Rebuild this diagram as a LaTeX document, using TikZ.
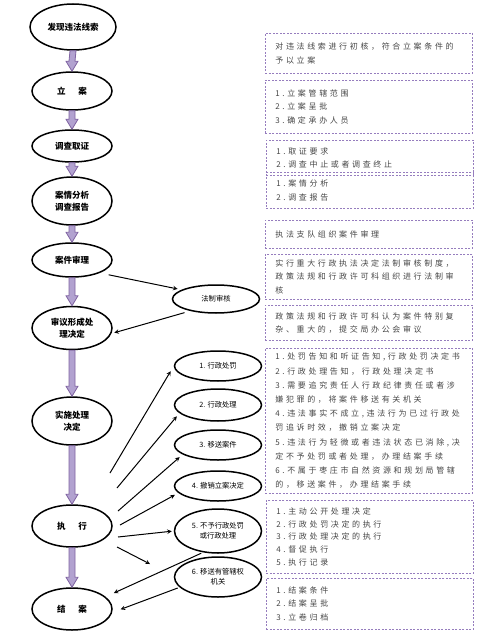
\documentclass[tikz,border=0pt]{standalone}
\usepackage{fontspec}
\usepackage{tikz}
\usetikzlibrary{shapes.geometric}
\newfontfamily\cjk{Noto Sans CJK SC}
\newfontfamily\cjkbox[LetterSpace=33]{Noto Sans CJK SC}
\definecolor{arrowline}{RGB}{128,100,162}
\definecolor{arrowfill}{RGB}{178,162,208}
\definecolor{boxline}{RGB}{150,125,190}
\definecolor{boxtext}{RGB}{70,70,70}

\newcommand{\fatarrow}[2]{%
  \draw[arrowline, fill=arrowfill, line width=0.8pt, line join=miter]
    ([xshift=-3pt]#1.south) -- ([xshift=-3pt, yshift=10pt]#2.north)
    -- ([xshift=-6pt, yshift=10pt]#2.north) -- (#2.north)
    -- ([xshift=6pt, yshift=10pt]#2.north) -- ([xshift=3pt, yshift=10pt]#2.north)
    -- ([xshift=3pt]#1.south) -- cycle;}

\begin{document}
\begin{tikzpicture}[x=1pt, y=-1pt,
  stage/.style={draw, ellipse, line width=1.5pt, minimum width=80pt, inner sep=0pt, align=center, font=\cjk\bfseries\fontsize{8.5}{11.5}\selectfont},
  outcome/.style={draw, ellipse, line width=1.5pt, minimum width=87pt, minimum height=30pt, inner sep=0pt, align=center, font=\cjk\fontsize{7.3}{10}\selectfont},
  note/.style={draw=boxline, dash pattern=on 2pt off 1.5pt, line width=0.8pt, anchor=north west, minimum width=207pt, text width=187pt, inner xsep=10pt, inner ysep=0pt, align=left, text=boxtext, font=\cjkbox\fontsize{8}{13.5}\selectfont},
  link/.style={->, >=stealth, line width=1pt}]
	\useasboundingbox (0,0) rectangle (484,639);

	\node[stage, minimum width=86pt, minimum height=46pt] (clue) at (73,27) {发现违法线索};
	\node[stage, minimum height=38pt] (filing) at (72,91) {立\hspace{1.5em}案};
	\node[stage, minimum height=32pt] (evidence) at (72,146) {调查取证};
	\node[stage, minimum height=48pt] (analysis) at (72,201) {案情分析\\调查报告};
	\node[stage, minimum height=34pt] (trial) at (72,260) {案件审理};
	\node[stage, minimum height=43pt] (decision) at (72,328) {审议形成处\\理决定};
	\node[stage, minimum height=48pt] (enforce) at (72,421) {实施处理\\决定};
	\node[stage, minimum height=42pt] (execute) at (72,526) {执\hspace{1.5em}行};
	\node[stage, minimum height=42pt] (close) at (72,609) {结\hspace{1.5em}案};

	\fatarrow{clue}{filing}
	\fatarrow{filing}{evidence}
	\fatarrow{evidence}{analysis}
	\fatarrow{analysis}{trial}
	\fatarrow{trial}{decision}
	\fatarrow{decision}{enforce}
	\fatarrow{enforce}{execute}
	\fatarrow{execute}{close}

	\node[outcome, minimum height=28pt] (review) at (216,299) {法制审核};
	\node[outcome] (out1) at (218,366) {1. 行政处罚};
	\node[outcome, minimum height=32pt] (out2) at (218,405) {2. 行政处理};
	\node[outcome] (out3) at (218,445) {3. 移送案件};
	\node[outcome] (out4) at (218,486) {4. 撤销立案决定};
	\node[outcome, minimum height=44pt] (out5) at (218,531) {5. 不予行政处罚\\或行政处理};
	\node[outcome, minimum height=40pt] (out6) at (218,577) {6. 移送有管辖权\\机关};

	\coordinate (from1) at (110,473);
	\coordinate (from2) at (117,488);
	\coordinate (from3) at (118,511);
	\coordinate (from4) at (120,525);
	\coordinate (from5) at (118,537);
	\coordinate (from6) at (117,547);
	\coordinate (to6) at (150,564);

	\draw[link, shorten <=9pt, shorten >=4pt] (trial.-25) -- (review.165);
	\draw[link, shorten <=6pt, shorten >=3pt] (review.205) -- (decision.-8);
	\draw[link, shorten >=6pt] (from1) -- (out1.west);
	\draw[link, shorten >=4pt] (from2) -- (out2.192);
	\draw[link, shorten >=4pt] (from3) -- (out3.195);
	\draw[link, shorten >=4pt] (from4) -- (out4.190);
	\draw[link, shorten >=2pt] (from5) -- (out5.west);
	\draw[link] (from6) -- (to6);
	\draw[link, shorten <=2pt, shorten >=9pt] (out5.235) -- (close.20);
	\draw[link, shorten <=2pt, shorten >=9pt] (out6.195) -- (close.-5);

	\node[note, minimum height=40pt] (box1) at (265,33) {对违法线索进行初核，符合立案条件的\\予以立案};
	\node[note, minimum height=53pt] (box2) at (265,80) {1.立案管辖范围\\2.立案呈批\\3.确定承办人员};
	\node[note, minimum height=35pt] (box3) at (266,140) {1.取证要求\\2.调查中止或者调查终止};
	\node[note, minimum height=36pt] (box4) at (266,172) {1.案情分析\\2.调查报告};
	\node[note, minimum height=28pt] (box5) at (265,220) {执法支队组织案件审理};
	\node[note, minimum height=45pt] (box6) at (265,254) {实行重大行政执法决定法制审核制度，\\政策法规和行政许可科组织进行法制审\\核};
	\node[note, minimum height=35pt] (box7) at (265,305) {政策法规和行政许可科认为案件特别复\\杂、重大的，提交局办公会审议};
	\node[note, minimum height=145pt, font=\cjkbox\fontsize{8}{14.2}\selectfont] (box8) at (265,348) {1.处罚告知和听证告知,行政处罚决定书\\2.行政处理告知，行政处理决定书\\3.需要追究责任人行政纪律责任或者涉\\嫌犯罪的，将案件移送有关机关\\4.违法事实不成立,违法行为已过行政处\\罚追诉时效，撤销立案决定\\5.违法行为轻微或者违法状态已消除,决\\定不予处罚或者处理，办理结案手续\\6.不属于枣庄市自然资源和规划局管辖\\的，移送案件，办理结案手续};
	\node[note, minimum height=73pt, font=\cjkbox\fontsize{8}{12.8}\selectfont] (box9) at (266,500) {1.主动公开处理决定\\2.行政处罚决定的执行\\3.行政处理决定的执行\\4.督促执行\\5.执行记录};
	\node[note, minimum height=51pt] (box10) at (266,578) {1.结案条件\\2.结案呈批\\3.立卷归档};
\end{tikzpicture}
\end{document}
